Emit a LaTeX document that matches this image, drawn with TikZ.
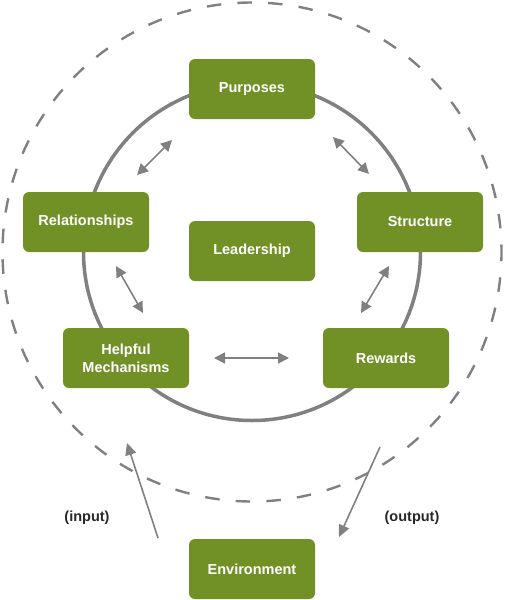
\documentclass[tikz,border=0pt]{standalone}
\usepackage{fontspec}
\setmainfont{Liberation Sans}
\usetikzlibrary{arrows.meta}
\definecolor{boxgreen}{RGB}{113,145,38}
\definecolor{linegray}{RGB}{128,128,128}
\definecolor{labeltext}{RGB}{40,40,40}
\tikzset{
  greenbox/.style={fill=boxgreen, draw=none, rounded corners=6pt, minimum width=126pt, minimum height=60pt, inner sep=0pt,
    text=white, font=\fontsize{14.5}{18}\selectfont\bfseries, align=center},
  sidelabel/.style={text=labeltext, font=\fontsize{14.5}{18}\selectfont\bfseries},
  dblarrow/.style={draw=linegray, line width=1.6pt, {Triangle[length=11pt,width=11pt]}-{Triangle[length=11pt,width=11pt]}},
  onearrow/.style={draw=linegray, line width=1.6pt, -{Triangle[length=12pt,width=11pt]}},
  ring/.style={draw=linegray, line width=3.5pt},
  dashring/.style={draw=linegray, line width=2.4pt, dash pattern=on 14.5pt off 16.2pt, dash phase=7pt}
}
\begin{document}
\begin{tikzpicture}[x=1pt,y=-1pt]
\useasboundingbox (0,0) rectangle (504,600);
% circles
\coordinate (ctr) at (252,252);
\draw[dashring] (ctr) circle[radius=249.5pt];
\draw[ring] (ctr) circle[radius=168.5pt];
% boxes
\node[greenbox] (purp) at (252,89) {Purposes};
\node[greenbox] (rel) at (86,222) {Relationships};
\node[greenbox] (str) at (420,222) {Structure};
\node[greenbox] (lead) at (252,251) {Leadership};
\node[greenbox] (help) at (126,358) {Helpful\\Mechanisms};
\node[greenbox] (rew) at (386,358) {Rewards};
\node[greenbox] (env) at (252,569) {Environment};
% labels
\node[sidelabel] (inp) at (87,518) {(input)};
\node[sidelabel] (outp) at (412,518) {(output)};
% arrow end points
\coordinate (a1s) at (172,140); \coordinate (a1e) at (137,175);
\coordinate (a2s) at (333,137); \coordinate (a2e) at (369,174);
\coordinate (a3s) at (116,266); \coordinate (a3e) at (143,313);
\coordinate (a4s) at (389,266); \coordinate (a4e) at (361,313);
\coordinate (a5s) at (214,358); \coordinate (a5e) at (289,358);
\coordinate (ins) at (158,538); \coordinate (ine) at (127,443);
\coordinate (outs) at (380,447); \coordinate (oute) at (339,537);
% arrows
\draw[dblarrow] (a1s) -- (a1e);
\draw[dblarrow] (a2s) -- (a2e);
\draw[dblarrow] (a3s) -- (a3e);
\draw[dblarrow] (a4s) -- (a4e);
\draw[dblarrow] (a5s) -- (a5e);
\draw[onearrow] (ins) -- (ine);
\draw[onearrow] (outs) -- (oute);
\end{tikzpicture}
\end{document}
